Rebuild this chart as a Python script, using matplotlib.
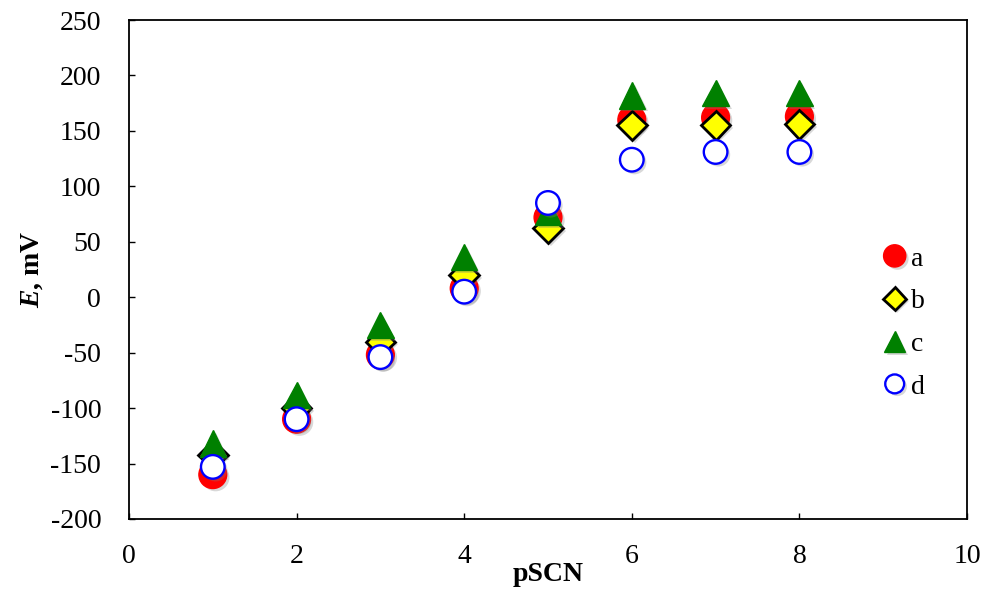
import matplotlib
matplotlib.use("Agg")
import matplotlib.pyplot as plt
import matplotlib.patheffects as pe

# pSCN values and electrode potentials (mV) for four membranes
pscn = [1, 2, 3, 4, 5, 6, 7, 8]
e_a = [-160, -110, -52, 8, 72, 160, 162, 163]
e_b = [-142, -100, -40, 20, 62, 155, 155, 156]
e_c = [-132, -88, -25, 36, 77, 182, 184, 184]
e_d = [-153, -110, -54, 5, 85, 124, 131, 131]

plt.rcParams['font.family'] = ['Liberation Serif', 'DejaVu Serif']
plt.rcParams['axes.unicode_minus'] = False
plt.rcParams['mathtext.fontset'] = 'custom'
plt.rcParams['mathtext.bfit'] = 'Liberation Serif:italic:bold'

fig = plt.figure(figsize=(9.91, 5.90), dpi=100)
ax = fig.add_axes([129 / 991, 71 / 590, 838 / 991, 499 / 590])

shadow = [pe.SimplePatchShadow(offset=(2, -2), shadow_rgbFace='gray', alpha=0.3), pe.Normal()]

ax.plot(pscn, e_a, 'o', ms=20, mfc='red', mec='red', label='a', path_effects=shadow)
ax.plot(pscn, e_b, 'D', ms=15, mfc='yellow', mec='black', mew=2, label='b', path_effects=shadow)
ax.plot(pscn, e_c, '^', ms=19, mfc='green', mec='green', label='c', path_effects=shadow)
ax.plot(pscn, e_d, 'o', ms=17, mfc='white', mec='blue', mew=1.7, label='d', path_effects=shadow)

ax.set_xlim(0, 10)
ax.set_ylim(-200, 250)
ax.set_xticks(range(0, 11, 2))
ax.set_yticks(range(-200, 251, 50))
ax.tick_params(direction='in', length=4, width=1, labelsize=20)
ax.tick_params(axis='x', pad=18)
ax.tick_params(axis='y', pad=20)
for s in ax.spines.values():
    s.set_linewidth(1.3)

ax.set_xlabel('pSCN', fontsize=20, fontweight='bold', labelpad=-5)
ax.set_ylabel(r'$\boldsymbol{E}$, mV', fontsize=20, fontweight='bold', labelpad=4)

ax.legend(loc='center', bbox_to_anchor=(0.922, 0.393), frameon=False, fontsize=20,
          labelspacing=0.62, handletextpad=0.0, handlelength=1.2, markerscale=0.8)

fig.savefig('out.png', dpi=100)
